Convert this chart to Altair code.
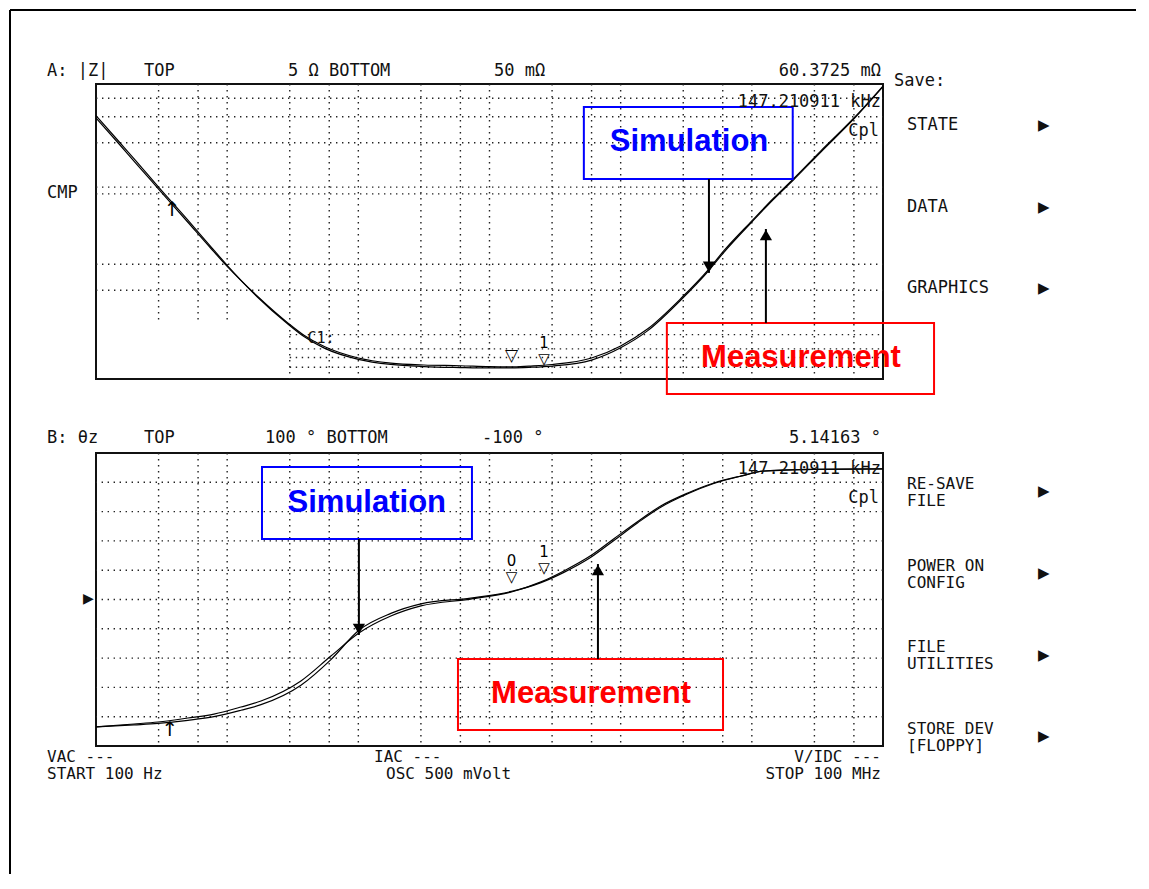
import altair as alt
import pandas as pd

# ---------------- data ----------------
# Panel A: |Z| (ohm) vs frequency (Hz)
freq_z = [100, 150, 200, 300, 500, 750, 1000, 1700, 2900, 3850, 5500, 10000, 17700,
          31600, 60000, 100000, 147000, 200000, 300000, 600000, 1000000, 1600000,
          2900000, 4700000, 6100000, 10000000, 14700000, 21000000, 33600000,
          60000000, 100000000]
z_meas = [2.94, 1.96, 1.46, 0.97, 0.58, 0.385, 0.29, 0.182, 0.12, 0.099, 0.083, 0.0694,
          0.0641, 0.0622, 0.0615, 0.0606, 0.0604, 0.0612, 0.0627, 0.0694, 0.0838, 0.109,
          0.177, 0.278, 0.369, 0.59, 0.843, 1.15, 1.76, 2.94, 4.85]
z_sim = [3.05, 2.03, 1.52, 1.0, 0.60, 0.395, 0.295, 0.18, 0.118, 0.097, 0.081, 0.068,
         0.0628, 0.0607, 0.0598, 0.0594, 0.0595, 0.0600, 0.0612, 0.0672, 0.0815, 0.106,
         0.173, 0.272, 0.360, 0.58, 0.83, 1.13, 1.73, 2.90, 4.80]

# Panel B: phase (deg) vs frequency (Hz)
freq_theta = [100, 195, 297, 502, 793, 1274, 1810, 3650, 6180, 10100, 17700, 30000, 72000,
              147000, 247000, 369000, 593000, 888000, 1350000, 2020000, 3250000, 5130000,
              8240000, 12300000, 30000000, 100000000]
theta_meas = [-87.0, -85.0, -83.6, -80.9, -78.2, -73.4, -69.3, -55.6, -38.6, -22.9, -11.3,
              -4.4, 0.3, 5.1, 12.0, 19.5, 30.0, 41.5, 53.3, 63.8, 72.7, 79.5, 84.3, 87.7,
              88.8, 89.1]
theta_sim = [-87.0, -85.6, -84.6, -82.5, -80.0, -75.6, -71.8, -58.5, -41.0, -21.0, -9.5,
             -3.0, 1.0, 5.5, 11.5, 18.5, 28.8, 40.3, 52.4, 63.0, 72.2, 79.2, 84.2, 87.6,
             88.8, 89.1]

# grid
grid_freqs = [300, 600, 1000, 3000, 6000, 1e4, 3e4, 6e4, 1e5, 3e5, 6e5, 1e6, 3e6, 6e6,
              1e7, 3e7, 6e7]
grid_z_full = [4, 3, 2, 1, 0.9, 0.3, 0.2]
grid_z_low = [0.1, 0.08, 0.07, 0.06]
grid_theta = [-80, -60, -40, -20, 0, 20, 40, 60, 80]

# annotations (data coordinates)
sim_box_a_f, sim_box_a_z = [524e3, 20.5e6], [3.49, 1.135]
sim_lab_a = (3.32e6, 2.02)
sim_arrow_a = (4.71e6, 1.135, 0.262)
meas_box_a_f, meas_box_a_z = [2.25e6, 245e6], [0.12, 0.0395]
meas_lab_a = (23.7e6, 0.0694)
meas_arrow_a = (12.8e6, 0.12, 0.52)

sim_box_b_f, sim_box_b_t = [1843, 73.5e3], [90.4, 41.3]
sim_lab_b = (11.6e3, 65.9)
sim_arrow_b = (10.1e3, 41.3, -24.2)
meas_box_b_f, meas_box_b_t = [57.5e3, 6.03e6], [-40.6, -89.1]
meas_lab_b = (594e3, -64.5)
meas_arrow_b = (671e3, -40.6, 24.2)

W, HA, HB = 787, 295, 293
MONO = "DejaVu Sans Mono"
SANS = "Liberation Sans"

xs = alt.Scale(type="log", domain=[100, 1e8], nice=False)
ya = alt.Scale(type="log", domain=[0.05, 5], nice=False)
yb = alt.Scale(domain=[-100, 100], nice=False, zero=False)

one = pd.DataFrame({"a": [0]})
DOT = dict(strokeDash=[1.4, 4.6], color="#222", strokeWidth=1.4)


def txt(s, x, y, align="left", size=17, font=MONO, color="#111", baseline="middle", lh=16):
    return alt.Chart(one).mark_text(text=s, align=align, baseline=baseline, font=font,
                                    fontSize=size, color=color, lineBreak="\n",
                                    lineHeight=lh).encode(
        x=alt.value(x), y=alt.value(y))


def dtxt(s, f, v, yscale, size=15, font=MONO, color="#111", weight="normal", dy=0,
         baseline="middle", lh=14):
    df = pd.DataFrame({"f": [f], "v": [v]})
    return alt.Chart(df).mark_text(text=s, align="center", baseline=baseline, font=font,
                                   fontSize=size, color=color, fontWeight=weight, dy=dy,
                                   lineBreak="\n", lineHeight=lh).encode(
        x=alt.X("f:Q", scale=xs, axis=None), y=alt.Y("v:Q", scale=yscale, axis=None))


def box(fs, vs, yscale, color):
    df = pd.DataFrame({"f0": [fs[0]], "f1": [fs[1]], "v0": [vs[0]], "v1": [vs[1]]})
    return alt.Chart(df).mark_rect(fillOpacity=0, stroke=color, strokeWidth=2).encode(
        x=alt.X("f0:Q", scale=xs, axis=None), x2="f1:Q",
        y=alt.Y("v0:Q", scale=yscale, axis=None), y2="v1:Q")


def arrow(spec, yscale, down):
    f, v0, v1 = spec
    df = pd.DataFrame({"f": [f], "v0": [v0], "v1": [v1]})
    shaft = alt.Chart(df).mark_rule(color="black", strokeWidth=2).encode(
        x=alt.X("f:Q", scale=xs, axis=None),
        y=alt.Y("v0:Q", scale=yscale, axis=None), y2="v1:Q")
    head = alt.Chart(df).mark_point(shape="triangle-down" if down else "triangle-up",
                                    filled=True, color="black", opacity=1, size=150,
                                    yOffset=-6 if down else 6).encode(
        x=alt.X("f:Q", scale=xs, axis=None), y=alt.Y("v1:Q", scale=yscale, axis=None))
    return [shaft, head]


# ---------------- panel A ----------------
vA = pd.DataFrame({"f": grid_freqs, "top": [5] * len(grid_freqs),
                   "bot": [0.12 if f < 3000 else 0.05 for f in grid_freqs]})
hA = pd.DataFrame({"z": grid_z_full + grid_z_low,
                   "f0": [100] * len(grid_z_full) + [3000] * len(grid_z_low),
                   "f1": [1e8] * (len(grid_z_full) + len(grid_z_low))})
gridA_v = alt.Chart(vA).mark_rule(**DOT).encode(
    x=alt.X("f:Q", scale=xs, axis=None), y=alt.Y("top:Q", scale=ya, axis=None), y2="bot:Q")
gridA_h = alt.Chart(hA).mark_rule(**DOT).encode(
    x=alt.X("f0:Q", scale=xs, axis=None), x2="f1:Q", y=alt.Y("z:Q", scale=ya, axis=None))

dfA = pd.DataFrame({"f": freq_z, "meas": z_meas, "sim": z_sim})
lineA_m = alt.Chart(dfA).mark_line(color="black", strokeWidth=1.2, interpolate="monotone").encode(
    x=alt.X("f:Q", scale=xs, axis=None), y=alt.Y("meas:Q", scale=ya, axis=None))
lineA_s = alt.Chart(dfA).mark_line(color="black", strokeWidth=1.2, interpolate="monotone").encode(
    x=alt.X("f:Q", scale=xs, axis=None), y=alt.Y("sim:Q", scale=ya, axis=None))

frame = [
    alt.Chart(one).mark_rule(color="black", strokeWidth=2).encode(
        x=alt.value(-86), y=alt.value(-74), y2=alt.value(790)),
    alt.Chart(one).mark_rule(color="black", strokeWidth=2).encode(
        x=alt.value(-86), x2=alt.value(1040), y=alt.value(-74)),
]

a_labels = ["A: |Z|", "TOP", "5 Ω BOTTOM", "50 mΩ", "60.3725 mΩ", "147.210911 kHz", "Cpl",
            "CMP", "Save:", "STATE", "DATA", "GRAPHICS"]
a_lx = [-49, 48, 192, 398, 785, 785, 783, -49, 798, 811, 811, 811]
a_ly = [-13, -13, -13, -13, -13, 18, 47, 109, -3, 41, 123, 204]
a_al = ["left", "left", "left", "left", "right", "right", "right", "left", "left",
        "left", "left", "left"]
textsA = [txt(s, x, y, a) for s, x, y, a in zip(a_labels, a_lx, a_ly, a_al)]
textsA += [txt("▶", 942, y, "left", 15, "DejaVu Sans") for y in [41, 123, 204]]

marksA = [
    dtxt("▽", 147e3, 0.0716, ya, 17, "DejaVu Sans", "black"),
    dtxt("1\n▽", 260e3, 0.0880, ya, 15, "DejaVu Sans", "black", baseline="top", dy=-7,
         lh=16),
    dtxt("C1:", 5190, 0.095, ya, 15),
    dtxt("↑", 380, 0.70, ya, 20, "DejaVu Sans", "black"),
]

annA = [box(sim_box_a_f, sim_box_a_z, ya, "#0000FF"),
        dtxt("Simulation", sim_lab_a[0], sim_lab_a[1], ya, 31, SANS, "#0000FF", "bold"),
        box(meas_box_a_f, meas_box_a_z, ya, "#FF0000"),
        dtxt("Measurement", meas_lab_a[0], meas_lab_a[1], ya, 31, SANS, "#FF0000", "bold")]
annA += arrow(sim_arrow_a, ya, True) + arrow(meas_arrow_a, ya, False)

panelA = alt.layer(gridA_v, gridA_h, lineA_m, lineA_s, *marksA, *annA, *textsA,
                   *frame).properties(width=W, height=HA)

# ---------------- panel B ----------------
vB = pd.DataFrame({"f": grid_freqs})
hB = pd.DataFrame({"t": grid_theta})
gridB_v = alt.Chart(vB).mark_rule(**DOT).encode(x=alt.X("f:Q", scale=xs, axis=None))
gridB_h = alt.Chart(hB).mark_rule(**DOT).encode(y=alt.Y("t:Q", scale=yb, axis=None))

dfB = pd.DataFrame({"f": freq_theta, "meas": theta_meas, "sim": theta_sim})
lineB_m = alt.Chart(dfB).mark_line(color="black", strokeWidth=1.2, interpolate="monotone").encode(
    x=alt.X("f:Q", scale=xs, axis=None), y=alt.Y("meas:Q", scale=yb, axis=None))
lineB_s = alt.Chart(dfB).mark_line(color="black", strokeWidth=1.2, interpolate="monotone").encode(
    x=alt.X("f:Q", scale=xs, axis=None), y=alt.Y("sim:Q", scale=yb, axis=None))

b_labels = ["B: θz", "TOP", "100 ° BOTTOM", "-100 °", "5.14163 °", "147.210911 kHz", "Cpl"]
b_lx = [-49, 48, 169, 386, 785, 785, 783]
b_ly = [-15, -15, -15, -15, -15, 16, 45]
b_al = ["left", "left", "left", "left", "right", "right", "right"]
textsB = [txt(s, x, y, a) for s, x, y, a in zip(b_labels, b_lx, b_ly, b_al)]

foot_labels = ["VAC ---", "START 100 Hz", "IAC ---", "OSC 500 mVolt", "V/IDC ---",
               "STOP 100 MHz"]
foot_x = [-49, -49, 278, 290, 785, 785]
foot_y = [304, 321, 304, 321, 304, 321]
foot_al = ["left", "left", "left", "left", "right", "right"]
textsB += [txt(s, x, y, a, 16) for s, x, y, a in zip(foot_labels, foot_x, foot_y, foot_al)]

menu_b = ["RE-SAVE\nFILE", "POWER ON\nCONFIG", "FILE\nUTILITIES", "STORE DEV\n[FLOPPY]"]
menu_b_y = [23, 105, 186, 268]
textsB += [txt(s, 811, y, "left", 16, MONO, "#111", "top", 17) for s, y in zip(menu_b, menu_b_y)]
textsB += [txt("▶", 942, y, "left", 15, "DejaVu Sans") for y in [38, 120, 202, 283]]
textsB += [txt("▶", -13, 146, "left", 14, "DejaVu Sans")]

marksB = [
    dtxt("0\n▽", 147e3, 26.0, yb, 15, "DejaVu Sans", "black", baseline="top", dy=-7, lh=16),
    dtxt("1\n▽", 260e3, 32.5, yb, 15, "DejaVu Sans", "black", baseline="top", dy=-7, lh=16),
    dtxt("↑", 366, -89, yb, 20, "DejaVu Sans", "black"),
]

annB = [box(sim_box_b_f, sim_box_b_t, yb, "#0000FF"),
        dtxt("Simulation", sim_lab_b[0], sim_lab_b[1], yb, 31, SANS, "#0000FF", "bold"),
        box(meas_box_b_f, meas_box_b_t, yb, "#FF0000"),
        dtxt("Measurement", meas_lab_b[0], meas_lab_b[1], yb, 31, SANS, "#FF0000", "bold")]
annB += arrow(sim_arrow_b, yb, True) + arrow(meas_arrow_b, yb, False)

panelB = alt.layer(gridB_v, gridB_h, lineB_m, lineB_s, *marksB, *annB,
                   *textsB).properties(width=W, height=HB)

chart = alt.vconcat(panelA, panelB, spacing=74, bounds="flush").properties(
    padding=0, background="white"
).configure_view(stroke="#111", strokeWidth=2)

chart.save("out.html", embed_options={"renderer": "svg", "actions": False})
